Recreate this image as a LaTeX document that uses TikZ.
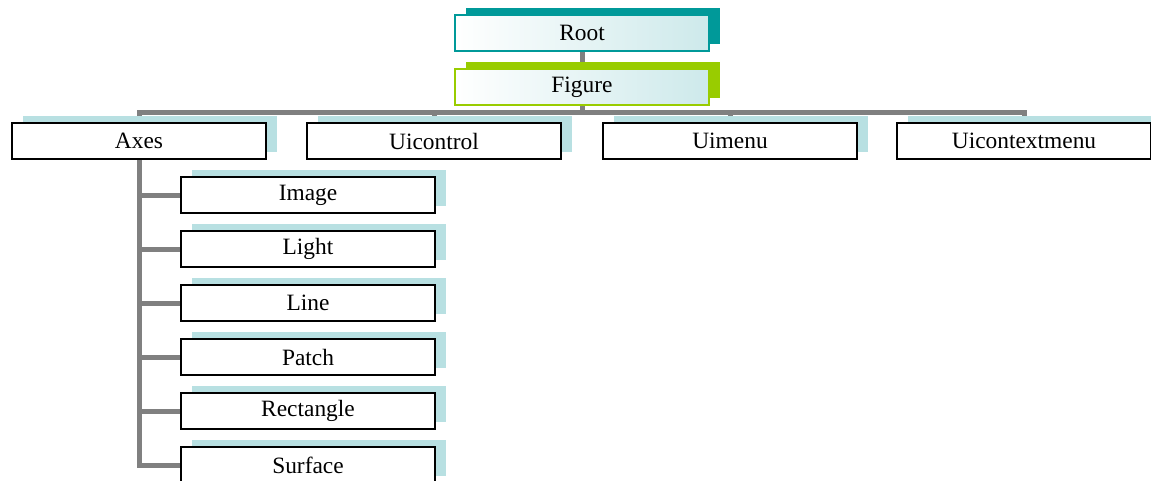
\documentclass[tikz,border=0pt]{standalone}
\usepackage{fontspec}
\setmainfont{Liberation Serif}
\usetikzlibrary{positioning, calc, shadows, backgrounds}

\definecolor{rootteal}{RGB}{0,153,153}
\definecolor{figgreen}{RGB}{153,204,0}
\definecolor{paleblue}{RGB}{184,224,226}
\definecolor{linkgray}{RGB}{128,128,128}

\begin{document}
\begin{tikzpicture}[x=0.5pt, y=-0.5pt,
    every node/.style={font=\fontsize{11.7}{14}\selectfont},
    box/.style={draw, line width=0.9pt, fill=white, minimum width=127pt, minimum height=18pt,
        inner sep=0pt, general shadow={fill=paleblue, shadow xshift=5.5pt, shadow yshift=3.5pt}},
    topbox/.style={box, left color=white, right color=paleblue!70},
    link/.style={draw=linkgray, line width=2.5pt}]
    \useasboundingbox (0,0) rectangle (1151,481);

    % root and figure
    \node[topbox, draw=rootteal, general shadow={fill=rootteal, shadow xshift=5.5pt, shadow yshift=3.5pt}]
        (root) at (582,33) {Root};
    \node[topbox, draw=figgreen, general shadow={fill=figgreen, shadow xshift=5.5pt, shadow yshift=3.5pt}]
        (figure) at (582,87) {Figure};

    % children of the figure
    \node[box] (axes) at (139,141) {Axes};
    \node[box] (uicontrol) at (434,141) {Uicontrol};
    \node[box] (uimenu) at (730,141) {Uimenu};
    \node[box] (uicontextmenu) at (1024,141) {Uicontextmenu};
    \coordinate (bar) at (582,113);

    % children of the axes
    \foreach \name/\txt [count=\i from 0] in {image/Image, light/Light, line/Line,
            patch/Patch, rectangle/Rectangle, surface/Surface}
        \node[box] (\name) at (308,195+54*\i) {\txt};

    \begin{scope}[on background layer]
        \draw[link] (root) -- (figure);
        \draw[link] (figure) -- (bar);
        \draw[link] (axes.north) |- (bar) -| (uicontextmenu.north);
        \draw[link] (uicontrol.north |- bar) -- (uicontrol.north);
        \draw[link] (uimenu.north |- bar) -- (uimenu.north);
        \draw[link] (axes.south) |- (surface.west);
        \foreach \name in {image, light, line, patch, rectangle}
            \draw[link] (axes.south |- \name.west) -- (\name.west);
    \end{scope}
\end{tikzpicture}
\end{document}
